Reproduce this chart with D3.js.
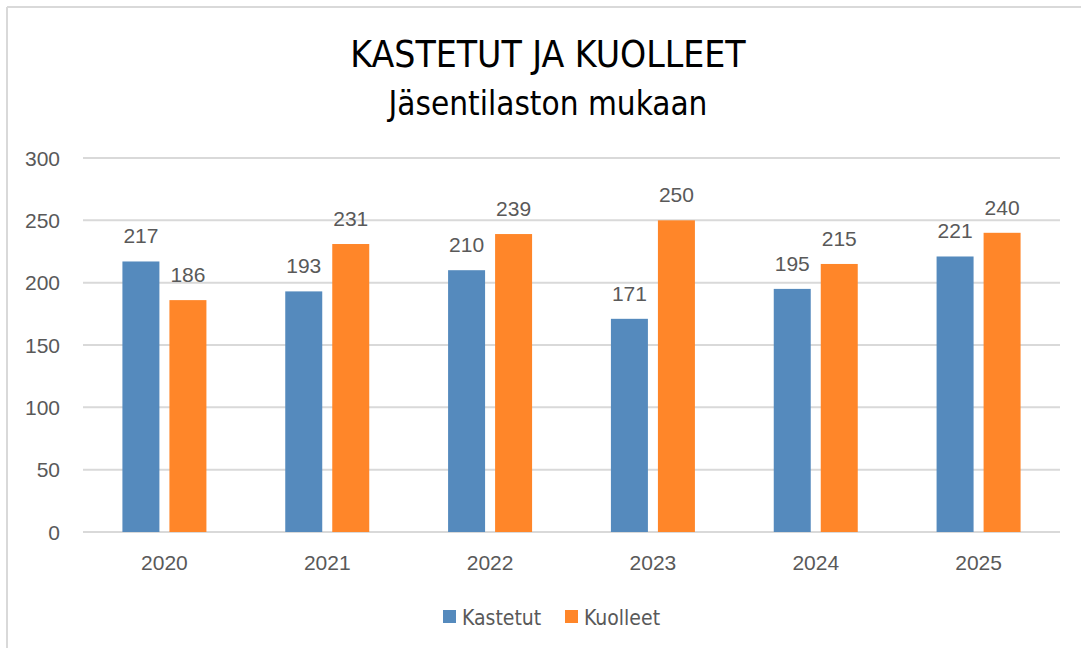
<!DOCTYPE html>
<html>
<head>
<meta charset="utf-8">
<script src="https://cdn.jsdelivr.net/npm/d3@7"></script>
<style>
  html, body { margin: 0; padding: 0; background: #fff; }
  svg { display: block; }
</style>
</head>
<body>
<svg id="chart" width="1081" height="648"></svg>
<script>
const years = ["2020", "2021", "2022", "2023", "2024", "2025"];
const kastetut = [217, 193, 210, 171, 195, 221];
const kuolleet = [186, 231, 239, 250, 215, 240];
const seriesNames = ["Kastetut", "Kuolleet"];
const seriesColors = ["#558ABD", "#FF8629"];
const yTicks = [0, 50, 100, 150, 200, 250, 300];

const svg = d3.select("#chart");
const width = 1081;
const height = 648;
const textColor = "#595959";
const narrowFont = "'Liberation Sans Narrow', 'Arial Narrow', 'DejaVu Sans Condensed', sans-serif";

// frame: only the top and left edges are visible in the crop
svg.append("line").attr("x1", 7).attr("x2", width).attr("y1", 7).attr("y2", 7)
  .attr("stroke", "#d9d9d9").attr("stroke-width", 2);
svg.append("line").attr("x1", 7).attr("x2", 7).attr("y1", 7).attr("y2", height)
  .attr("stroke", "#d9d9d9").attr("stroke-width", 2);

const margin = { left: 83, right: 21, top: 158, bottom: 116 };
const plotW = width - margin.left - margin.right;
const plotH = height - margin.top - margin.bottom;

const x = d3.scaleBand().domain(years).range([0, plotW]);
const inner = d3.scaleBand().domain(seriesNames).range([-42, 42]).paddingInner(0.213);
const y = d3.scaleLinear().domain([0, 300]).range([plotH, 0]);

const g = svg.append("g").attr("transform", `translate(${margin.left},${margin.top})`);

// gridlines
g.append("g")
  .selectAll("line")
  .data(yTicks)
  .join("line")
  .attr("x1", 0)
  .attr("x2", plotW)
  .attr("y1", (d) => y(d))
  .attr("y2", (d) => y(d))
  .attr("stroke", "#d9d9d9")
  .attr("stroke-width", 2);

// y labels
g.append("g")
  .selectAll("text")
  .data(yTicks)
  .join("text")
  .attr("x", -23)
  .attr("y", (d) => y(d))
  .attr("dy", "0.36em")
  .attr("text-anchor", "end")
  .attr("fill", textColor)
  .style("font-family", "'Liberation Sans', Arial, sans-serif")
  .style("font-size", "21px")
  .text((d) => d);

// x labels
g.append("g")
  .selectAll("text")
  .data(years)
  .join("text")
  .attr("x", (d) => x(d) + x.bandwidth() / 2)
  .attr("y", plotH + 38)
  .attr("text-anchor", "middle")
  .attr("fill", textColor)
  .style("font-family", "'Liberation Sans', Arial, sans-serif")
  .style("font-size", "21px")
  .text((d) => d);

const rows = years.map((year, i) => [
  { year, key: seriesNames[0], value: kastetut[i], color: seriesColors[0] },
  { year, key: seriesNames[1], value: kuolleet[i], color: seriesColors[1] }
]).flat();

const barX = (d) => x(d.year) + x.bandwidth() / 2 + inner(d.key);

g.append("g")
  .selectAll("rect")
  .data(rows)
  .join("rect")
  .attr("x", barX)
  .attr("y", (d) => y(d.value))
  .attr("width", inner.bandwidth())
  .attr("height", (d) => plotH - y(d.value))
  .attr("fill", (d) => d.color);

g.append("g")
  .selectAll("text")
  .data(rows)
  .join("text")
  .attr("x", (d) => barX(d) + inner.bandwidth() / 2)
  .attr("y", (d) => y(d.value) - 18)
  .attr("text-anchor", "middle")
  .attr("fill", textColor)
  .style("font-family", "'Liberation Sans', Arial, sans-serif")
  .style("font-size", "21px")
  .text((d) => d.value);

// title
svg.append("text")
  .attr("x", 548)
  .attr("y", 67)
  .attr("text-anchor", "middle")
  .attr("fill", "#000")
  .style("font-family", narrowFont)
  .style("font-size", "37px")
  .text("KASTETUT JA KUOLLEET");

svg.append("text")
  .attr("x", 548)
  .attr("y", 115)
  .attr("text-anchor", "middle")
  .attr("fill", "#000")
  .style("font-family", narrowFont)
  .style("font-size", "33px")
  .text("Jäsentilaston mukaan");

// legend
const legend = svg.append("g").attr("transform", "translate(443,617)");
const legendItems = legend.selectAll("g")
  .data(seriesNames)
  .join("g")
  .attr("transform", (d, i) => `translate(${i * 122},0)`);
legendItems.append("rect")
  .attr("x", 0)
  .attr("y", -7)
  .attr("width", 13)
  .attr("height", 13)
  .attr("fill", (d, i) => seriesColors[i]);
legendItems.append("text")
  .attr("x", 19)
  .attr("y", 0)
  .attr("dy", "0.36em")
  .attr("fill", textColor)
  .style("font-family", narrowFont)
  .style("font-size", "21px")
  .text((d) => d);
</script>
</body>
</html>
